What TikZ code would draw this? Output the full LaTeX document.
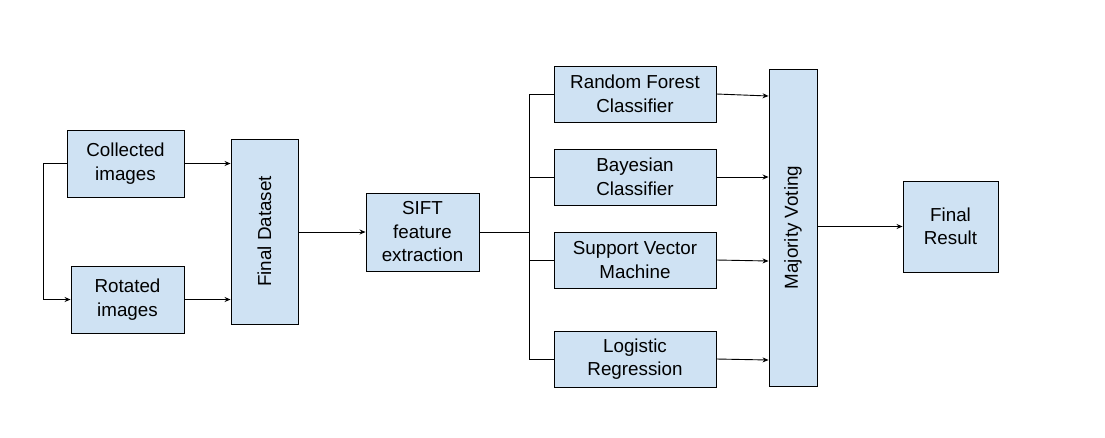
\documentclass[tikz,border=0pt]{standalone}
\usepackage{fontspec}
\setmainfont{Liberation Sans}
\usetikzlibrary{arrows.meta}
\definecolor{boxfill}{HTML}{CFE2F3}
\begin{document}
\begin{tikzpicture}[x=1pt,y=-1pt,
  box/.style={draw=black,line width=0.9pt,fill=boxfill,inner sep=0pt,align=center,
    font=\fontsize{18.8}{23.5}\selectfont},
  vtext/.style={font=\fontsize{18.8}{23.5}\selectfont,rotate=90},
  conn/.style={line width=0.9pt,draw=black},
  arr/.style={conn,-{Stealth[length=6pt,width=5pt]}}]
\useasboundingbox (0,0) rectangle (1105,437);
\node[box,minimum width=117pt,minimum height=67pt] (col) at (125.5,163.5) {Collected\\images};
\node[box,minimum width=113pt,minimum height=67pt] (rot) at (127.5,299.5) {Rotated\\images};
\node[box,minimum width=67pt,minimum height=185pt] (fd) at (264.5,231.5) {};
\node[vtext] (fdt) at (fd.center) {Final Dataset};
\node[box,minimum width=113pt,minimum height=78pt] (sift) at (422.5,232) {SIFT\\feature\\extraction};
\node[box,minimum width=162pt,minimum height=56pt] (rf) at (635,94) {Random Forest\\Classifier};
\node[box,minimum width=162pt,minimum height=56pt] (bc) at (635,177) {Bayesian\\Classifier};
\node[box,minimum width=162pt,minimum height=56pt] (svm) at (635,260) {Support Vector\\Machine};
\node[box,minimum width=162pt,minimum height=56pt] (lr) at (635,359) {Logistic\\Regression};
\node[box,minimum width=48pt,minimum height=317pt] (mv) at (793,227.5) {};
\node[vtext] (mvt) at (mv.center) {Majority Voting};
\node[box,minimum width=95pt,minimum height=91pt] (fr) at (950.5,226.5) {Final\\Result};
\coordinate (jl) at (43,0);
\coordinate (jr) at (529,0);
% left branch
\draw[arr] (col.west) -- (jl |- col.west) -- (jl |- rot.west) -- (rot.west);
\draw[arr] (col.east) -- (fd.west |- col.east);
\draw[arr] (rot.east) -- (fd.west |- rot.east);
\draw[arr] (fd.east |- sift.west) -- (sift.west);
% fan out
\draw[conn] (sift.east) -- (jr |- sift.east);
\draw[conn] (jr |- rf.west) -- (jr |- lr.west);
\draw[conn] (jr |- rf.west) -- (rf.west);
\draw[conn] (jr |- bc.west) -- (bc.west);
\draw[conn] (jr |- svm.west) -- (svm.west);
\draw[conn] (jr |- lr.west) -- (lr.west);
% to majority voting
\draw[arr] (rf.east) -- ([yshift=-2pt]mv.west |- rf.east);
\draw[arr] (bc.east) -- (mv.west |- bc.east);
\draw[arr] (svm.east) -- ([yshift=-1pt]mv.west |- svm.east);
\draw[arr] (lr.east) -- ([yshift=-1pt]mv.west |- lr.east);
\draw[arr] (mv.east |- fr.west) -- (fr.west);
\end{tikzpicture}
\end{document}
